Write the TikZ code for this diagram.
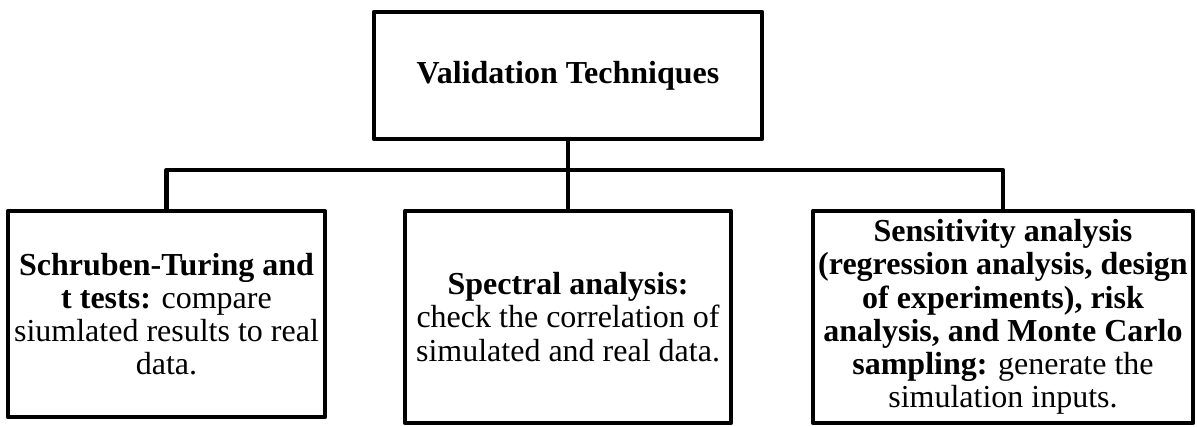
\documentclass[tikz,border=0pt]{standalone}
\usepackage{fontspec}
\setmainfont{Liberation Serif}
\begin{document}
\begin{tikzpicture}[x=1pt,y=-1pt,
  box/.style={draw=black,line width=4.5pt,line join=round,fill=white,
    inner sep=0pt,align=center,font=\fontsize{32}{33.2}\selectfont},
  link/.style={draw=black,line width=4.5pt,line join=round}]
\useasboundingbox (0,0) rectangle (1197,426);
\fill[white] (0,0) rectangle (1197,426);

\node[box,minimum width=388pt,minimum height=127pt] (root) at (568,75.5)
  {\textbf{Validation Techniques}};

\node[box,minimum width=317pt,minimum height=206pt] (left) at (166.5,314)
  {\textbf{Schruben-Turing and}\\\textbf{t tests:} compare\\siumlated results to real\\data.};

\node[box,minimum width=326pt,minimum height=212pt] (mid) at (568,317)
  {\textbf{Spectral analysis:}\\check the correlation of\\simulated and real data.};

\node[box,minimum width=380pt,minimum height=212pt] (right) at (1003,317)
  {\textbf{Sensitivity analysis}\\\textbf{(regression analysis, design}\\\textbf{of experiments), risk}\\\textbf{analysis, and Monte Carlo}\\\textbf{sampling:} generate the\\simulation inputs.};

\coordinate (bar) at (568,170);
\draw[link] (root.south) -- (mid.north);
\draw[link] (left.north) |- (bar) -| (right.north);
\end{tikzpicture}
\end{document}
